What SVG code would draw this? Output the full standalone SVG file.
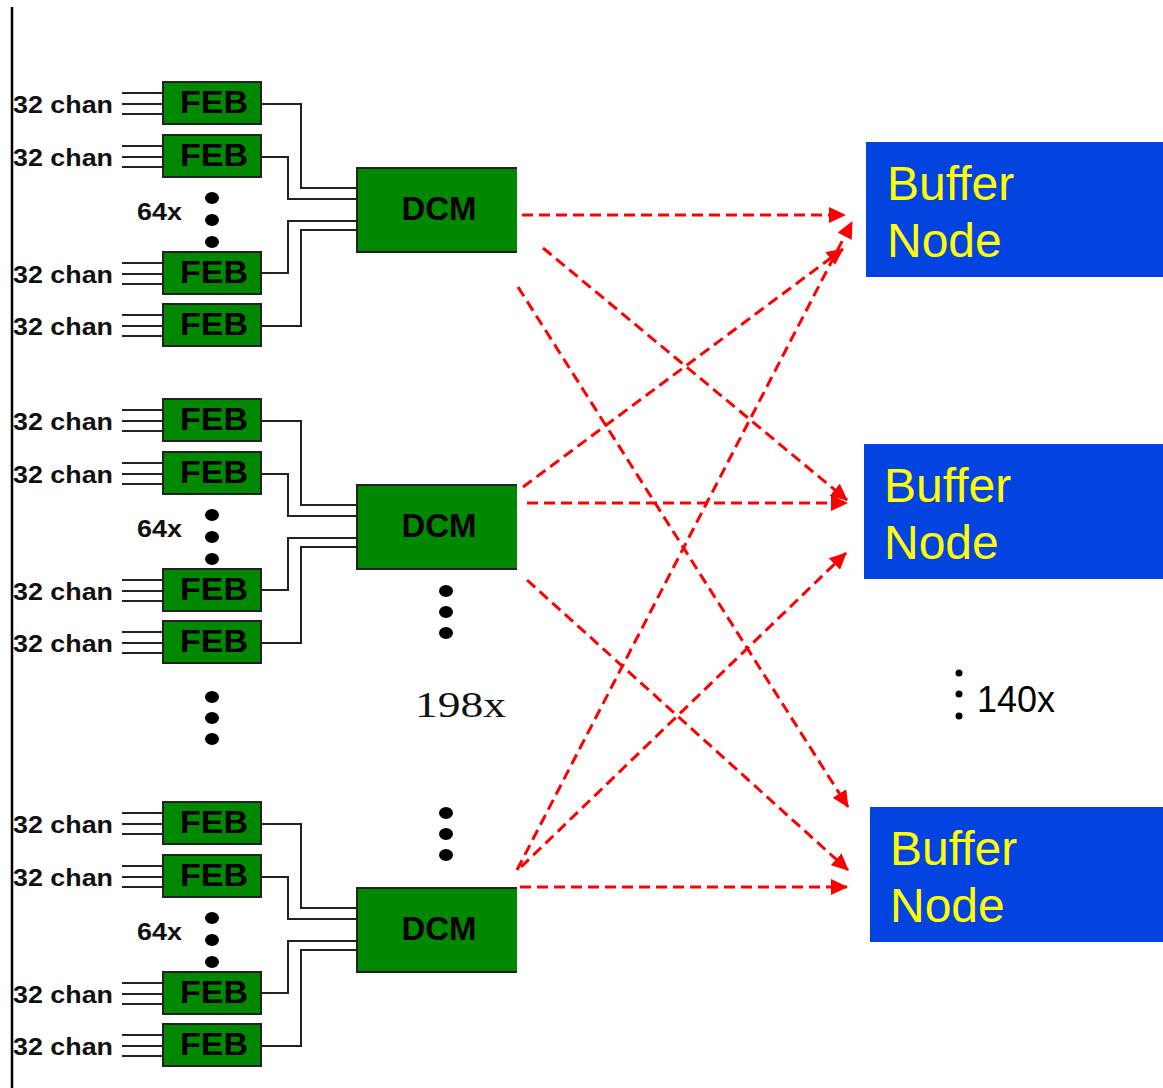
<svg xmlns="http://www.w3.org/2000/svg" width="1163" height="1088" viewBox="0 0 1163 1088">
<defs>
<marker id="ah" markerUnits="userSpaceOnUse" markerWidth="18" markerHeight="16" refX="16" refY="8" orient="auto">
<path d="M0,0 L17,8 L0,16 Z" fill="#ff0000"/>
</marker>
<style>
.feb{fill:#008800;stroke:#222;stroke-width:2}
.dcm{fill:#008800}
.edge{fill:none;stroke:#222;stroke-width:2}
.wire{fill:none;stroke:#222;stroke-width:2}
.lab{font-family:"Liberation Sans",Arial,sans-serif;font-weight:bold;fill:#111}
.febt{font-family:"Liberation Sans",Arial,sans-serif;font-weight:bold;font-size:32px;fill:#000}
.dcmt{font-family:"Liberation Sans",Arial,sans-serif;font-weight:bold;font-size:33px;fill:#000}
.bn{fill:#0343df}
.bnt{font-family:"Liberation Sans",Arial,sans-serif;font-size:48px;fill:#ffff00}
.arr{fill:none;stroke:#ff0000;stroke-width:3;stroke-dasharray:11,6;marker-end:url(#ah)}
.dot{fill:#000}
</style>
</defs>
<rect width="1163" height="1088" fill="#fff"/>
<line x1="12" y1="7" x2="12" y2="1088" stroke="#000" stroke-width="2.5"/>

<!-- Group 1 -->
<g id="feb1-1"><path class="wire" d="M122,93H163M122,104H163M122,114H163"/><rect class="feb" x="163" y="82" width="98" height="42"/><text class="febt" x="180" y="113" textLength="68" lengthAdjust="spacingAndGlyphs">FEB</text><text class="lab" x="13" y="113" font-size="23" textLength="100" lengthAdjust="spacingAndGlyphs">32 chan</text></g>
<g id="feb1-2"><path class="wire" d="M122,146H163M122,157H163M122,167H163"/><rect class="feb" x="163" y="135" width="98" height="42"/><text class="febt" x="180" y="166" textLength="68" lengthAdjust="spacingAndGlyphs">FEB</text><text class="lab" x="13" y="166" font-size="23" textLength="100" lengthAdjust="spacingAndGlyphs">32 chan</text></g>
<g id="feb1-3"><path class="wire" d="M122,263H163M122,274H163M122,284H163"/><rect class="feb" x="163" y="252" width="98" height="42"/><text class="febt" x="180" y="283" textLength="68" lengthAdjust="spacingAndGlyphs">FEB</text><text class="lab" x="13" y="283" font-size="23" textLength="100" lengthAdjust="spacingAndGlyphs">32 chan</text></g>
<g id="feb1-4"><path class="wire" d="M122,315H163M122,326H163M122,336H163"/><rect class="feb" x="163" y="304" width="98" height="42"/><text class="febt" x="180" y="335" textLength="68" lengthAdjust="spacingAndGlyphs">FEB</text><text class="lab" x="13" y="335" font-size="23" textLength="100" lengthAdjust="spacingAndGlyphs">32 chan</text></g>
<g id="mult1"><text class="lab" x="137" y="220" font-size="23" textLength="45" lengthAdjust="spacingAndGlyphs">64x</text><ellipse class="dot" cx="212" cy="198" rx="7" ry="6"/><ellipse class="dot" cx="212" cy="220" rx="7" ry="6"/><ellipse class="dot" cx="212" cy="242" rx="7" ry="6"/></g>
<g id="dcm1"><rect class="dcm" x="357" y="168" width="160" height="84"/><path class="edge" d="M517,168H357V252H517"/><text class="dcmt" x="439" y="220" text-anchor="middle">DCM</text></g>

<!-- Group 2 -->
<g id="feb2-1"><path class="wire" d="M122,410H163M122,421H163M122,431H163"/><rect class="feb" x="163" y="399" width="98" height="42"/><text class="febt" x="180" y="430" textLength="68" lengthAdjust="spacingAndGlyphs">FEB</text><text class="lab" x="13" y="430" font-size="23" textLength="100" lengthAdjust="spacingAndGlyphs">32 chan</text></g>
<g id="feb2-2"><path class="wire" d="M122,463H163M122,474H163M122,484H163"/><rect class="feb" x="163" y="452" width="98" height="42"/><text class="febt" x="180" y="483" textLength="68" lengthAdjust="spacingAndGlyphs">FEB</text><text class="lab" x="13" y="483" font-size="23" textLength="100" lengthAdjust="spacingAndGlyphs">32 chan</text></g>
<g id="feb2-3"><path class="wire" d="M122,580H163M122,591H163M122,601H163"/><rect class="feb" x="163" y="569" width="98" height="42"/><text class="febt" x="180" y="600" textLength="68" lengthAdjust="spacingAndGlyphs">FEB</text><text class="lab" x="13" y="600" font-size="23" textLength="100" lengthAdjust="spacingAndGlyphs">32 chan</text></g>
<g id="feb2-4"><path class="wire" d="M122,632H163M122,643H163M122,653H163"/><rect class="feb" x="163" y="621" width="98" height="42"/><text class="febt" x="180" y="652" textLength="68" lengthAdjust="spacingAndGlyphs">FEB</text><text class="lab" x="13" y="652" font-size="23" textLength="100" lengthAdjust="spacingAndGlyphs">32 chan</text></g>
<g id="mult2"><text class="lab" x="137" y="537" font-size="23" textLength="45" lengthAdjust="spacingAndGlyphs">64x</text><ellipse class="dot" cx="212" cy="515" rx="7" ry="6"/><ellipse class="dot" cx="212" cy="537" rx="7" ry="6"/><ellipse class="dot" cx="212" cy="559" rx="7" ry="6"/></g>
<g id="dcm2"><rect class="dcm" x="357" y="485" width="160" height="84"/><path class="edge" d="M517,485H357V569H517"/><text class="dcmt" x="439" y="537" text-anchor="middle">DCM</text></g>

<!-- Group 3 -->
<g id="feb3-1"><path class="wire" d="M122,813H163M122,824H163M122,834H163"/><rect class="feb" x="163" y="802" width="98" height="42"/><text class="febt" x="180" y="833" textLength="68" lengthAdjust="spacingAndGlyphs">FEB</text><text class="lab" x="13" y="833" font-size="23" textLength="100" lengthAdjust="spacingAndGlyphs">32 chan</text></g>
<g id="feb3-2"><path class="wire" d="M122,866H163M122,877H163M122,887H163"/><rect class="feb" x="163" y="855" width="98" height="42"/><text class="febt" x="180" y="886" textLength="68" lengthAdjust="spacingAndGlyphs">FEB</text><text class="lab" x="13" y="886" font-size="23" textLength="100" lengthAdjust="spacingAndGlyphs">32 chan</text></g>
<g id="feb3-3"><path class="wire" d="M122,983H163M122,994H163M122,1004H163"/><rect class="feb" x="163" y="972" width="98" height="42"/><text class="febt" x="180" y="1003" textLength="68" lengthAdjust="spacingAndGlyphs">FEB</text><text class="lab" x="13" y="1003" font-size="23" textLength="100" lengthAdjust="spacingAndGlyphs">32 chan</text></g>
<g id="feb3-4"><path class="wire" d="M122,1035H163M122,1046H163M122,1056H163"/><rect class="feb" x="163" y="1024" width="98" height="42"/><text class="febt" x="180" y="1055" textLength="68" lengthAdjust="spacingAndGlyphs">FEB</text><text class="lab" x="13" y="1055" font-size="23" textLength="100" lengthAdjust="spacingAndGlyphs">32 chan</text></g>
<g id="mult3"><text class="lab" x="137" y="940" font-size="23" textLength="45" lengthAdjust="spacingAndGlyphs">64x</text><ellipse class="dot" cx="212" cy="918" rx="7" ry="6"/><ellipse class="dot" cx="212" cy="940" rx="7" ry="6"/><ellipse class="dot" cx="212" cy="962" rx="7" ry="6"/></g>
<g id="dcm3"><rect class="dcm" x="357" y="888" width="160" height="84"/><path class="edge" d="M517,888H357V972H517"/><text class="dcmt" x="439" y="940" text-anchor="middle">DCM</text></g>

<!-- ellipses between groups -->
<g id="more-groups"><ellipse class="dot" cx="212" cy="697" rx="7" ry="6"/><ellipse class="dot" cx="212" cy="718" rx="7" ry="6"/><ellipse class="dot" cx="212" cy="739" rx="7" ry="6"/></g>
<g id="more-dcm"><ellipse class="dot" cx="446" cy="591" rx="7" ry="6"/><ellipse class="dot" cx="446" cy="612" rx="7" ry="6"/><ellipse class="dot" cx="446" cy="633" rx="7" ry="6"/><ellipse class="dot" cx="446" cy="813" rx="7" ry="6"/><ellipse class="dot" cx="446" cy="834" rx="7" ry="6"/><ellipse class="dot" cx="446" cy="855" rx="7" ry="6"/><text x="415" y="717" font-family="'Liberation Serif','Times New Roman',serif" font-size="35" fill="#111" textLength="91" lengthAdjust="spacingAndGlyphs">198x</text></g>

<!-- Buffer nodes -->
<g id="bn1"><rect class="bn" x="866" y="142" width="297" height="135"/><text class="bnt" x="887" y="200">Buffer</text><text class="bnt" x="887" y="257">Node</text></g>
<g id="bn2"><rect class="bn" x="864" y="444" width="299" height="135"/><text class="bnt" x="884" y="502">Buffer</text><text class="bnt" x="884" y="559">Node</text></g>
<g id="bn3"><rect class="bn" x="870" y="807" width="293" height="135"/><text class="bnt" x="890" y="865">Buffer</text><text class="bnt" x="890" y="922">Node</text></g>
<g id="more-bn"><circle class="dot" cx="959" cy="673" r="3.5"/><circle class="dot" cx="959" cy="694" r="3.5"/><circle class="dot" cx="959" cy="716" r="3.5"/><text x="977" y="712" font-family="'Liberation Sans',Arial,sans-serif" font-size="36" fill="#000">140x</text></g>

<!-- FEB to DCM wiring and DCM to buffer node links -->
<g id="connectors">
<path class="wire" d="M261,104H301V188H357M261,157H288V199H357M261,273H288V221H357M261,326H301V230H357"/>
<path class="wire" d="M261,421H301V505H357M261,474H288V516H357M261,590H288V538H357M261,643H301V547H357"/>
<path class="wire" d="M261,824H301V908H357M261,877H288V919H357M261,993H288V941H357M261,1046H301V950H357"/>
<line class="arr" x1="522" y1="215" x2="845" y2="215"/>
<line class="arr" x1="543" y1="248" x2="847" y2="500"/>
<line class="arr" x1="518" y1="287" x2="848" y2="807"/>
<line class="arr" x1="523" y1="487" x2="843" y2="249"/>
<line class="arr" x1="527" y1="503" x2="847" y2="503"/>
<line class="arr" x1="527" y1="580" x2="848" y2="870"/>
<line class="arr" x1="517" y1="870" x2="852" y2="222"/>
<line class="arr" x1="521" y1="867" x2="846" y2="553"/>
<line class="arr" x1="520" y1="887" x2="847" y2="887"/>
</g>
</svg>
